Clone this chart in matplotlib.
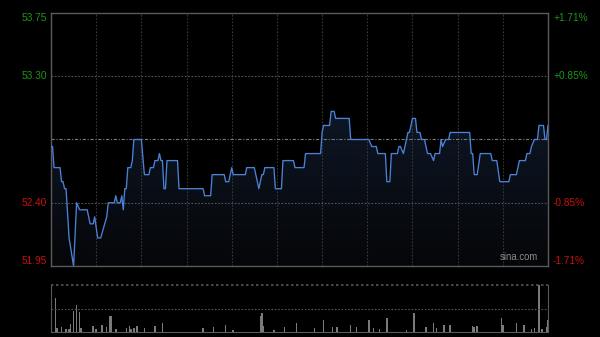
import numpy as np
import matplotlib
matplotlib.use("Agg")
import matplotlib.pyplot as plt
from matplotlib.colors import LinearSegmentedColormap

plt.rcParams['font.family'] = ['Liberation Sans', 'DejaVu Sans']

# 前日終値と表示レンジ
prev_close = 52.85
y_ticks = [53.75, 53.30, 52.40, 51.95]
pct_labels = ["+1.71%", "+0.85%", "-0.85%", "-1.71%"]

# 分足（取引開始からの経過分, 価格）
minutes = [0, 1, 2, 6, 7, 8, 9, 10, 12, 15, 17, 19, 24, 26, 28, 29, 31, 33, 37, 38,
           42, 43, 44, 46, 47, 48, 49, 50, 51, 53, 54, 55, 60, 62, 65, 66, 68, 69, 71, 72,
           73, 74, 75, 76, 77, 84, 85, 101, 102, 106, 107, 115, 116, 118, 119, 120, 121, 129, 130, 135,
           136, 138, 140, 141, 142, 148, 149, 153, 154, 161, 162, 168, 169, 179, 180, 181, 185, 186, 188, 189,
           198, 199, 211, 213, 216, 217, 222, 223, 225, 226, 230, 231, 232, 234, 235, 237, 238, 240, 242, 243,
           245, 246, 248, 250, 252, 254, 255, 258, 259, 260, 262, 264, 265, 278, 279, 280, 281, 283, 285, 292,
           293, 296, 298, 304, 305, 309, 311, 315, 316, 318, 319, 321, 323, 324, 327, 328, 329, 330]
prices = [52.80, 52.80, 52.65, 52.65, 52.55, 52.55, 52.50, 52.50, 52.15, 51.95, 52.40, 52.35, 52.35, 52.25, 52.25, 52.30, 52.15, 52.15, 52.30, 52.40,
          52.40, 52.45, 52.40, 52.40, 52.45, 52.35, 52.50, 52.50, 52.65, 52.65, 52.70, 52.85, 52.85, 52.60, 52.60, 52.65, 52.65, 52.70, 52.70, 52.75,
          52.70, 52.70, 52.50, 52.50, 52.70, 52.70, 52.50, 52.50, 52.45, 52.45, 52.60, 52.60, 52.55, 52.55, 52.60, 52.65, 52.60, 52.60, 52.65, 52.65,
          52.60, 52.50, 52.60, 52.60, 52.65, 52.65, 52.50, 52.50, 52.70, 52.70, 52.65, 52.65, 52.75, 52.75, 52.90, 52.95, 52.95, 53.05, 53.05, 53.00,
          53.00, 52.85, 52.85, 52.80, 52.80, 52.75, 52.75, 52.55, 52.55, 52.75, 52.75, 52.80, 52.80, 52.75, 52.80, 52.90, 52.90, 53.00, 53.00, 52.90,
          52.90, 52.85, 52.85, 52.75, 52.75, 52.70, 52.75, 52.75, 52.85, 52.80, 52.85, 52.85, 52.90, 52.90, 52.75, 52.75, 52.60, 52.60, 52.75, 52.75,
          52.70, 52.70, 52.55, 52.55, 52.60, 52.60, 52.70, 52.70, 52.75, 52.75, 52.80, 52.85, 52.85, 52.95, 52.95, 52.85, 52.85, 52.95]

# 出来高（目に見えるバーのみ）
vol_minutes = [0, 3, 4, 7, 10, 12, 13, 15, 17, 19, 20, 28, 30, 34, 37, 39, 40, 43, 50, 52,
               53, 55, 57, 62, 69, 74, 101, 108, 116, 121, 139, 140, 141, 148, 155, 163, 175, 181, 187, 190,
               199, 203, 211, 214, 218, 223, 236, 241, 249, 254, 256, 261, 265, 280, 281, 283, 299, 300, 309, 314,
               319, 321, 324, 326, 329, 330]
volumes = [16, 73, 8, 10, 6, 7, 18, 44, 58, 42, 8, 13, 6, 15, 10, 35, 33, 6, 8, 12,
           6, 8, 13, 8, 12, 20, 8, 10, 14, 5, 33, 40, 12, 5, 10, 19, 8, 25, 10, 10,
           15, 10, 26, 8, 6, 29, 5, 40, 10, 20, 8, 15, 15, 13, 10, 12, 30, 15, 20, 15,
           6, 8, 100, 6, 10, 25]

n_min = 330
bg = "#000000"
grid_col = "#383838"
spine_col = "#5a5a5a"

fig = plt.figure(figsize=(6, 3.37), dpi=100, facecolor=bg)
ax = fig.add_axes([51 / 600, 71 / 337, 497 / 600, 253 / 337], facecolor=bg)
axv = fig.add_axes([51 / 600, 5 / 337, 497 / 600, 47 / 337], facecolor=bg)

# 価格チャート
ax.set_xlim(0, n_min)
ax.set_ylim(y_ticks[-1], y_ticks[0])

# グラデーション塗りつぶし
cmap = LinearSegmentedColormap.from_list("fill", ["#050608", "#142239"])
poly = ax.fill_between(minutes, prices, y_ticks[-1], color="none")
grad = np.linspace(0, 1, 256).reshape(-1, 1)
img = ax.imshow(grad, cmap=cmap, aspect="auto", origin="lower",
                extent=[0, n_min, y_ticks[-1], y_ticks[0]], zorder=1)
img.set_clip_path(poly.get_paths()[0], transform=ax.transData)

ax.plot(minutes, prices, color="#4b82d8", lw=0.95, zorder=3)

# グリッド
for m in range(30, n_min, 30):
    ax.axvline(m, color=grid_col, lw=0.8, ls=(0, (1.5, 1.5)), zorder=2)
for y in [y_ticks[1], y_ticks[2]]:
    ax.axhline(y, color="#555555", lw=0.8, ls=(0, (1.5, 1.5)), zorder=2)
ax.axhline(prev_close, color="#777777", lw=0.8, ls=(0, (3, 1.5, 1, 1.5)), zorder=2)

ax.set_xticks([])
ax.set_yticks([])
for s in ax.spines.values():
    s.set_color(spine_col)
    s.set_linewidth(1.0)

# 左右のラベル
for i, (y, p) in enumerate(zip(y_ticks, pct_labels)):
    col = "#1c951c" if y > prev_close else "#c81010"
    va = "center"
    if i == 0:
        va = "top"
    elif i == len(y_ticks) - 1:
        va = "bottom"
    ax.text(-0.008, y, f"{y:.2f}", transform=ax.get_yaxis_transform(),
            ha="right", va=va, color=col, fontsize=7.3)
    ax.text(1.01, y, p, transform=ax.get_yaxis_transform(),
            ha="left", va=va, color=col, fontsize=7.3)

ax.text(0.98, 0.015, "sina.com", transform=ax.transAxes, ha="right", va="bottom",
        color="#8a8a8a", fontsize=6.9, zorder=4)

# 出来高
axv.bar(vol_minutes, volumes, width=1.0, color="#7a7a7a", linewidth=0)
axv.set_xlim(0, n_min)
axv.set_ylim(0, max(volumes))
axv.axhline(max(volumes) / 2, color="#555555", lw=0.8, ls=(0, (1.5, 1.5)))
axv.set_xticks([])
axv.set_yticks([])
axv.spines["top"].set_visible(False)
axv.axhline(max(volumes), color="#555555", lw=1.2, ls=(0, (1.5, 1.5)), clip_on=False)
for k in ["left", "right", "bottom"]:
    axv.spines[k].set_color(spine_col)

fig.savefig("out.png", dpi=100, facecolor=bg)
